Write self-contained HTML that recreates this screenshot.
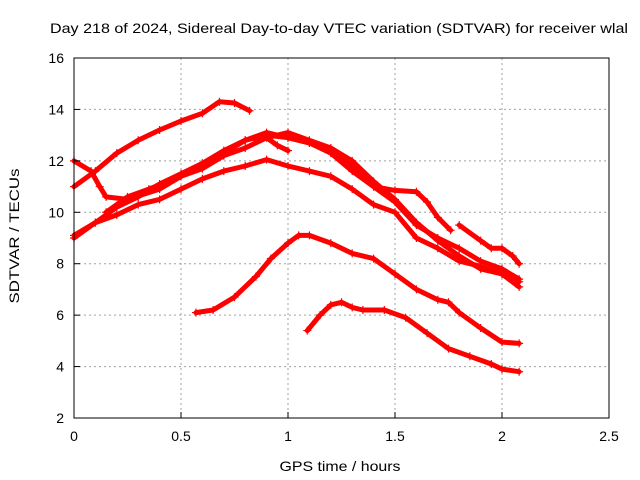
<!DOCTYPE html>
<html><head><meta charset="utf-8"><style>
body{margin:0;background:#fff;}
svg{display:block;font-family:"Liberation Sans",sans-serif;}
</style></head><body>
<svg id="chart" width="640" height="480" viewBox="0 0 640 480" xmlns="http://www.w3.org/2000/svg">
<rect width="640" height="480" fill="#fff"/>
<text x="339" y="33" font-size="14" text-anchor="middle" textLength="578" lengthAdjust="spacingAndGlyphs" fill="#000">Day 218 of 2024, Sidereal Day-to-day VTEC variation (SDTVAR) for receiver wlal</text>
<g id="grid"></g>
<g id="series"></g>
<rect x="74" y="58" width="535" height="360" fill="none" stroke="#000" stroke-width="1"/>
<g id="ticks"></g>
<text x="340" y="471" font-size="14" text-anchor="middle" textLength="121" lengthAdjust="spacingAndGlyphs">GPS time / hours</text>
<text transform="translate(19,236) rotate(-90)" font-size="14" text-anchor="middle" textLength="135" lengthAdjust="spacingAndGlyphs">SDTVAR / TECUs</text>
</svg>
<script>
const xTicks = [0, 0.5, 1, 1.5, 2, 2.5];
const xTickLabels = ["0", "0.5", "1", "1.5", "2", "2.5"];
const yTicks = [2, 4, 6, 8, 10, 12, 14, 16];
const yTickLabels = ["2", "4", "6", "8", "10", "12", "14", "16"];

const sA_t = [0,0.1,0.2,0.3,0.4,0.5,0.6,0.68,0.75,0.82];
const sA_v = [11.0,11.6,12.3,12.8,13.2,13.55,13.85,14.3,14.25,13.95];
const sB_t = [0,0.08,0.12,0.15,0.25,0.4,0.5,0.6,0.7,0.8,0.9,1.0,1.1,1.2,1.3,1.4,1.5,1.6,1.65,1.7,1.76];
const sB_v = [12.0,11.6,11.0,10.6,10.5,10.9,11.4,11.9,12.4,12.8,13.0,12.9,12.7,12.4,11.8,11.0,10.85,10.8,10.4,9.8,9.3];
const sB2_t = [1.8,1.9,1.95,2.0,2.05,2.08];
const sB2_v = [9.5,8.9,8.6,8.6,8.3,8.0];
const sC_t = [0,0.1,0.2,0.3,0.4,0.5,0.6,0.7,0.8,0.9,1.0,1.1,1.2,1.3,1.4,1.5,1.6,1.7,1.8,1.9,2.0,2.08];
const sC_v = [9.0,9.6,10.2,10.6,11.1,11.5,11.9,12.3,12.8,13.1,12.9,12.7,12.3,11.6,11.0,10.4,9.5,9.0,8.6,8.1,7.8,7.4];
const sD_t = [0.15,0.25,0.35,0.5,0.6,0.7,0.8,0.9,0.95,1.0];
const sD_v = [10.0,10.6,10.9,11.4,11.7,12.2,12.5,12.9,12.6,12.4];
const sE_t = [0,0.1,0.2,0.3,0.4,0.5,0.6,0.7,0.8,0.9,1.0,1.1,1.2,1.3,1.4,1.5,1.6,1.7,1.8,1.9,2.0,2.08];
const sE_v = [9.1,9.6,9.9,10.3,10.5,10.9,11.3,11.6,11.8,12.05,11.8,11.6,11.4,10.9,10.3,10.0,9.0,8.6,8.1,7.9,7.6,7.1];
const sF_t = [0.85,1.0,1.1,1.2,1.3,1.4,1.5,1.6,1.7,1.8,1.9,2.0,2.08];
const sF_v = [12.8,13.1,12.8,12.5,12.0,11.2,10.5,9.6,8.9,8.3,7.8,7.6,7.3];
const sG_t = [0.57,0.65,0.75,0.85,0.92,1.0,1.05,1.1,1.2,1.3,1.4,1.5,1.6,1.7,1.75,1.8,1.9,2.0,2.08];
const sG_v = [6.1,6.2,6.7,7.5,8.2,8.8,9.1,9.1,8.8,8.4,8.2,7.6,7.0,6.6,6.5,6.1,5.5,4.95,4.9];
const sH_t = [1.09,1.15,1.2,1.25,1.3,1.35,1.45,1.55,1.65,1.75,1.85,1.95,2.0,2.08];
const sH_v = [5.4,6.0,6.4,6.5,6.3,6.2,6.2,5.9,5.3,4.7,4.4,4.1,3.9,3.8];
const seriesList = [[sA_t,sA_v],[sB_t,sB_v],[sB2_t,sB2_v],[sC_t,sC_v],[sD_t,sD_v],[sE_t,sE_v],[sF_t,sF_v],[sG_t,sG_v],[sH_t,sH_v]];

const NS = "http://www.w3.org/2000/svg";
const X0 = 74, X1 = 609, Y0 = 418, Y1 = 58;
function xs(t){ return X0 + (t - 0) / 2.5 * (X1 - X0); }
function ys(v){ return Y0 - (v - 2) / 14 * (Y0 - Y1); }
function mk(tag, attrs, parent){ const e = document.createElementNS(NS, tag); for (const k in attrs) e.setAttribute(k, attrs[k]); parent.appendChild(e); return e; }

const grid = document.getElementById('grid');
const ticks = document.getElementById('ticks');
xTicks.forEach((t, i) => {
  const x = xs(t);
  if (i > 0 && i < xTicks.length - 1) {
    const g = mk('line', {x1:x, x2:x, y1:Y1, y2:Y0, stroke:'#a0a0a0', 'stroke-dasharray':'2,3'}, grid);
    
    
  }
  const tk = mk('line', {x1:x, x2:x, y1:Y0, y2:Y0-6, stroke:'#000'}, ticks);
  
  
  const lb = mk('text', {x:x, y:Y0+23, 'font-size':14, 'text-anchor':'middle'}, ticks);
  lb.textContent = xTickLabels[i];
  
  
});
yTicks.forEach((v, i) => {
  const y = ys(v);
  if (i > 0 && i < yTicks.length - 1) {
    const g = mk('line', {x1:X0, x2:X1, y1:y, y2:y, stroke:'#a0a0a0', 'stroke-dasharray':'2,3'}, grid);
    
    
  }
  const tk = mk('line', {x1:X0, x2:X0+6, y1:y, y2:y, stroke:'#000'}, ticks);
  
  
  const lb = mk('text', {x:X0-10, y:y+5, 'font-size':14, 'text-anchor':'end'}, ticks);
  lb.textContent = yTickLabels[i];
  
  
});

const sg = document.getElementById('series');
seriesList.forEach((s, si) => {
  const [ts, vs] = s;
  const pts = ts.map((t, i) => xs(t).toFixed(1) + ',' + ys(vs[i]).toFixed(1)).join(' ');
  const pl = mk('polyline', {points:pts, fill:'none', stroke:'#ff0000', 'stroke-width':5, 'stroke-linejoin':'round', 'stroke-linecap':'round'}, sg);
  
  
  ts.forEach((t, i) => {
    const x = xs(t), y = ys(vs[i]);
    const p = mk('path', {d:`M${x-4},${y}H${x+4}M${x},${y-4}V${y+4}`, stroke:'#ff0000', 'stroke-width':1.2, fill:'none'}, sg);
    
    
  });
});
</script>
</body></html>
